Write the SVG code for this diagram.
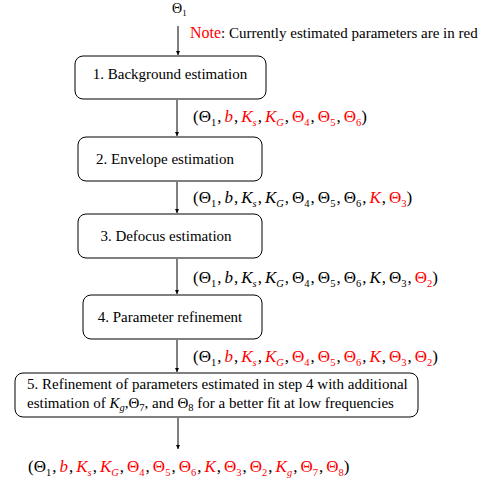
<svg xmlns="http://www.w3.org/2000/svg" width="492" height="484" viewBox="0 0 492 484">
<style>
text{font-family:"Liberation Serif","Times New Roman",serif;fill:#000}
.bt{font-size:15px}
.m{font-size:17px}
.r{fill:#ff0000}
.i{font-style:italic}
.sb{font-size:10.5px}
.box{fill:#fff;stroke:#000;stroke-width:1}
.ln{stroke:#000;stroke-width:1;fill:none;marker-end:url(#ah)}
</style>
<defs>
<marker id="ah" viewBox="0 0 6 6" markerUnits="userSpaceOnUse" markerWidth="4" markerHeight="5" refX="6" refY="3" orient="auto">
<path d="M0,0 L6,3 L0,6 z" fill="#000"/>
</marker>
</defs>
<g id="connectors">
<line class="ln" x1="178" y1="26" x2="178" y2="55"/>
<line class="ln" x1="177" y1="100" x2="177" y2="136"/>
<line class="ln" x1="177" y1="182" x2="177" y2="213"/>
<line class="ln" x1="177" y1="259" x2="177" y2="294"/>
<line class="ln" x1="177" y1="340" x2="177" y2="372"/>
<line class="ln" x1="178" y1="418" x2="178" y2="449"/>
</g>
<g id="start">
<text x="172" y="13" style="font-size:14px">Θ<tspan style="font-size:9px" dy="3">1</tspan></text>
</g>
<g id="note">
<text x="190" y="38" class="bt"><tspan class="r" style="font-size:16px">Note</tspan>: Currently estimated parameters are in red</text>
</g>
<g id="step1">
<rect class="box" x="75" y="56" width="191" height="43" rx="8"/>
<text x="170" y="79" class="bt" text-anchor="middle">1. Background estimation</text>
</g>
<g id="label1">
<text x="193" y="122" class="m">(Θ<tspan class="sb" dy="4">1</tspan><tspan dy="-4" dx="1">,</tspan><tspan class="r i" dx="3">b</tspan><tspan dx="1">,</tspan><tspan class="r i" dx="3">K</tspan><tspan class="r i sb" dy="4">s</tspan><tspan dy="-4" dx="1">,</tspan><tspan class="r i" dx="3">K</tspan><tspan class="r i sb" dy="4">G</tspan><tspan dy="-4" dx="1">,</tspan><tspan class="r" dx="3">Θ</tspan><tspan class="r sb" dy="4">4</tspan><tspan dy="-4" dx="1">,</tspan><tspan class="r" dx="3">Θ</tspan><tspan class="r sb" dy="4">5</tspan><tspan dy="-4" dx="1">,</tspan><tspan class="r" dx="3">Θ</tspan><tspan class="r sb" dy="4">6</tspan><tspan dy="-4">)</tspan></text>
</g>
<g id="step2">
<rect class="box" x="78" y="137" width="184" height="44" rx="8"/>
<text x="165" y="164" class="bt" text-anchor="middle">2. Envelope estimation</text>
</g>
<g id="label2">
<text x="193" y="203" class="m">(Θ<tspan class="sb" dy="4">1</tspan><tspan dy="-4" dx="1">,</tspan><tspan class="i" dx="3">b</tspan><tspan dx="1">,</tspan><tspan class="i" dx="3">K</tspan><tspan class="i sb" dy="4">s</tspan><tspan dy="-4" dx="1">,</tspan><tspan class="i" dx="3">K</tspan><tspan class="i sb" dy="4">G</tspan><tspan dy="-4" dx="1">,</tspan><tspan dx="3">Θ</tspan><tspan class="sb" dy="4">4</tspan><tspan dy="-4" dx="1">,</tspan><tspan dx="3">Θ</tspan><tspan class="sb" dy="4">5</tspan><tspan dy="-4" dx="1">,</tspan><tspan dx="3">Θ</tspan><tspan class="sb" dy="4">6</tspan><tspan dy="-4" dx="1">,</tspan><tspan class="r i" dx="3">K</tspan><tspan dx="1">,</tspan><tspan class="r" dx="3">Θ</tspan><tspan class="r sb" dy="4">3</tspan><tspan dy="-4">)</tspan></text>
</g>
<g id="step3">
<rect class="box" x="78" y="214" width="184" height="44" rx="8"/>
<text x="166" y="241" class="bt" text-anchor="middle">3. Defocus estimation</text>
</g>
<g id="label3">
<text x="193" y="283" class="m">(Θ<tspan class="sb" dy="4">1</tspan><tspan dy="-4" dx="1">,</tspan><tspan class="i" dx="3">b</tspan><tspan dx="1">,</tspan><tspan class="i" dx="3">K</tspan><tspan class="i sb" dy="4">s</tspan><tspan dy="-4" dx="1">,</tspan><tspan class="i" dx="3">K</tspan><tspan class="i sb" dy="4">G</tspan><tspan dy="-4" dx="1">,</tspan><tspan dx="3">Θ</tspan><tspan class="sb" dy="4">4</tspan><tspan dy="-4" dx="1">,</tspan><tspan dx="3">Θ</tspan><tspan class="sb" dy="4">5</tspan><tspan dy="-4" dx="1">,</tspan><tspan dx="3">Θ</tspan><tspan class="sb" dy="4">6</tspan><tspan dy="-4" dx="1">,</tspan><tspan class="i" dx="3">K</tspan><tspan dx="1">,</tspan><tspan dx="3">Θ</tspan><tspan class="sb" dy="4">3</tspan><tspan dy="-4" dx="1">,</tspan><tspan class="r" dx="3">Θ</tspan><tspan class="r sb" dy="4">2</tspan><tspan dy="-4">)</tspan></text>
</g>
<g id="step4">
<rect class="box" x="83" y="295" width="179" height="44" rx="8"/>
<text x="170" y="322" class="bt" text-anchor="middle">4. Parameter refinement</text>
</g>
<g id="label4">
<text x="193" y="362" class="m">(Θ<tspan class="sb" dy="4">1</tspan><tspan dy="-4" dx="1">,</tspan><tspan class="r i" dx="3">b</tspan><tspan dx="1">,</tspan><tspan class="r i" dx="3">K</tspan><tspan class="r i sb" dy="4">s</tspan><tspan dy="-4" dx="1">,</tspan><tspan class="r i" dx="3">K</tspan><tspan class="r i sb" dy="4">G</tspan><tspan dy="-4" dx="1">,</tspan><tspan class="r" dx="3">Θ</tspan><tspan class="r sb" dy="4">4</tspan><tspan dy="-4" dx="1">,</tspan><tspan class="r" dx="3">Θ</tspan><tspan class="r sb" dy="4">5</tspan><tspan dy="-4" dx="1">,</tspan><tspan class="r" dx="3">Θ</tspan><tspan class="r sb" dy="4">6</tspan><tspan dy="-4" dx="1">,</tspan><tspan class="r i" dx="3">K</tspan><tspan dx="1">,</tspan><tspan class="r" dx="3">Θ</tspan><tspan class="r sb" dy="4">3</tspan><tspan dy="-4" dx="1">,</tspan><tspan class="r" dx="3">Θ</tspan><tspan class="r sb" dy="4">2</tspan><tspan dy="-4">)</tspan></text>
</g>
<g id="step5">
<rect class="box" x="15" y="373" width="403" height="44" rx="8"/>
<text x="27" y="389" class="bt">5. Refinement of parameters estimated in step 4 with additional</text>
<text x="27" y="408" class="bt">estimation of <tspan class="i">K</tspan><tspan class="i sb" dy="3">g</tspan><tspan dy="-3">,Θ</tspan><tspan class="sb" dy="3">7</tspan><tspan dy="-3">, and Θ</tspan><tspan class="sb" dy="3">8</tspan><tspan dy="-3"> for a better fit at low frequencies</tspan></text>
</g>
<g id="label5">
<text x="28" y="472" class="m">(Θ<tspan class="sb" dy="4">1</tspan><tspan dy="-4" dx="1">,</tspan><tspan class="r i" dx="3">b</tspan><tspan dx="1">,</tspan><tspan class="r i" dx="3">K</tspan><tspan class="r i sb" dy="4">s</tspan><tspan dy="-4" dx="1">,</tspan><tspan class="r i" dx="3">K</tspan><tspan class="r i sb" dy="4">G</tspan><tspan dy="-4" dx="1">,</tspan><tspan class="r" dx="3">Θ</tspan><tspan class="r sb" dy="4">4</tspan><tspan dy="-4" dx="1">,</tspan><tspan class="r" dx="3">Θ</tspan><tspan class="r sb" dy="4">5</tspan><tspan dy="-4" dx="1">,</tspan><tspan class="r" dx="3">Θ</tspan><tspan class="r sb" dy="4">6</tspan><tspan dy="-4" dx="1">,</tspan><tspan class="r i" dx="3">K</tspan><tspan dx="1">,</tspan><tspan class="r" dx="3">Θ</tspan><tspan class="r sb" dy="4">3</tspan><tspan dy="-4" dx="1">,</tspan><tspan class="r" dx="3">Θ</tspan><tspan class="r sb" dy="4">2</tspan><tspan dy="-4" dx="1">,</tspan><tspan class="r i" dx="3">K</tspan><tspan class="r i sb" dy="4">g</tspan><tspan dy="-4" dx="1">,</tspan><tspan class="r" dx="3">Θ</tspan><tspan class="r sb" dy="4">7</tspan><tspan dy="-4" dx="1">,</tspan><tspan class="r" dx="3">Θ</tspan><tspan class="r sb" dy="4">8</tspan><tspan dy="-4">)</tspan></text>
</g>
</svg>
